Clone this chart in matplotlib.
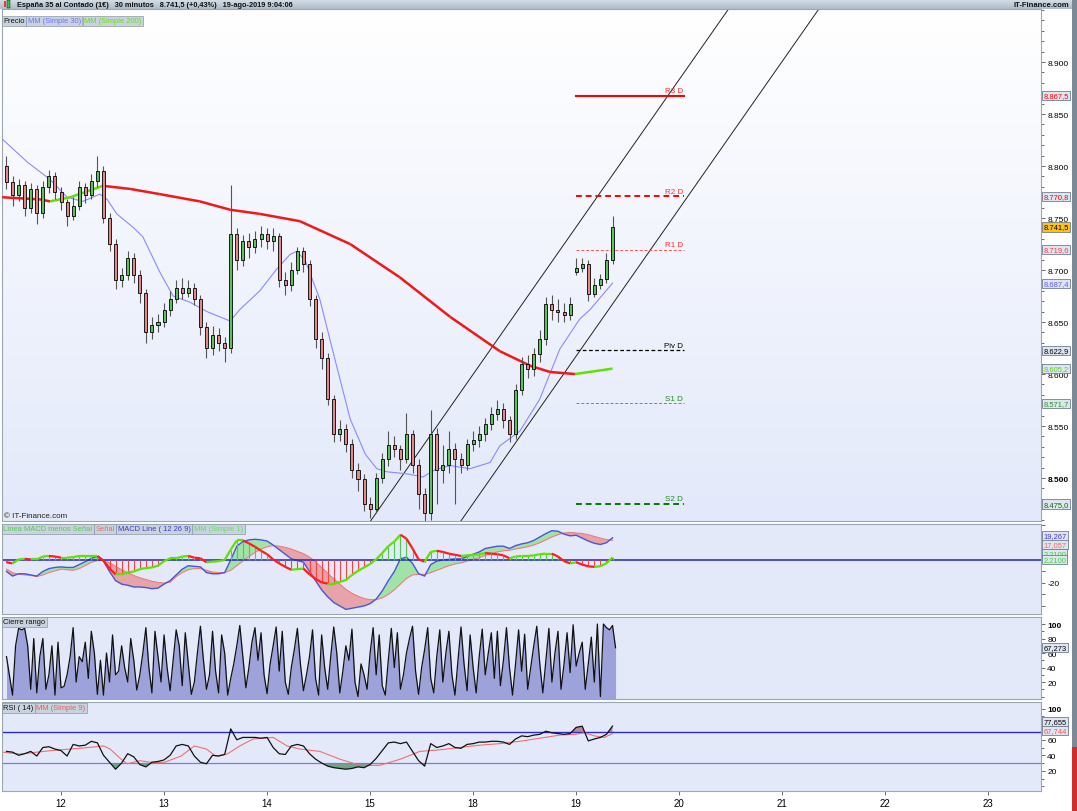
import matplotlib
matplotlib.use("Agg")
import matplotlib.pyplot as plt
import numpy as np
from matplotlib.collections import LineCollection
from matplotlib.colors import LinearSegmentedColormap
from matplotlib.patches import Rectangle
from matplotlib.ticker import FuncFormatter, MultipleLocator

plt.rcParams['font.family'] = ['Liberation Sans', 'DejaVu Sans']

W, H = 1077, 812

# ---------------- data (30 min candles, x = candle index, 17 per session) ----------------
T0 = -9
first_open = 8800
session_opens = {85: 8698}   # gap open on 19-ago

closes = [8785, 8772, 8782, 8760, 8778, 8755, 8780, 8790, 8775,
          8765, 8752, 8762, 8780, 8772, 8786, 8795, 8750, 8725, 8690, 8695, 8712, 8695, 8678, 8640, 8647, 8650,
          8662, 8672, 8683, 8678, 8683, 8672, 8645, 8625, 8638, 8630, 8625, 8735, 8710, 8728, 8722, 8730, 8735,
          8728, 8733, 8690, 8686, 8700, 8718, 8706, 8672, 8634, 8615, 8576, 8542, 8547, 8533, 8508, 8499, 8475,
          8470, 8500, 8518, 8532, 8528, 8518, 8542, 8513, 8485, 8466, 8542, 8508, 8513, 8528, 8518, 8513, 8533,
          8537, 8542, 8552, 8562, 8566, 8556, 8542, 8585, 8610, 8605, 8619, 8634, 8667, 8662, 8660, 8657, 8667,
          8702, 8706, 8677, 8686, 8691, 8710, 8741.5]
highs = [8810, 8790, 8788, 8786, 8784, 8782, 8786, 8796, 8794,
         8780, 8768, 8770, 8786, 8784, 8792, 8810, 8800, 8755, 8730, 8702, 8718, 8716, 8700, 8682, 8655, 8658,
         8668, 8680, 8690, 8692, 8690, 8688, 8676, 8650, 8646, 8644, 8636, 8782, 8740, 8734, 8736, 8738, 8742,
         8740, 8740, 8736, 8698, 8708, 8722, 8722, 8710, 8676, 8640, 8620, 8580, 8556, 8552, 8538, 8514, 8504,
         8482, 8505, 8524, 8545, 8540, 8532, 8563, 8546, 8518, 8490, 8565, 8548, 8532, 8545, 8534, 8524, 8538,
         8545, 8550, 8558, 8568, 8575, 8572, 8560, 8590, 8616, 8618, 8625, 8642, 8674, 8676, 8672, 8668, 8674,
         8712, 8712, 8710, 8692, 8696, 8716, 8752]
lows = [8778, 8762, 8766, 8752, 8755, 8744, 8750, 8774, 8768,
        8758, 8742, 8748, 8758, 8764, 8768, 8780, 8745, 8718, 8682, 8684, 8690, 8688, 8668, 8630, 8634, 8640,
        8645, 8656, 8668, 8672, 8674, 8666, 8638, 8615, 8618, 8622, 8612, 8620, 8700, 8704, 8712, 8716, 8722,
        8720, 8718, 8684, 8676, 8680, 8696, 8698, 8665, 8625, 8605, 8570, 8535, 8536, 8525, 8500, 8488, 8468,
        8462, 8466, 8495, 8512, 8520, 8508, 8514, 8505, 8470, 8458, 8460, 8475, 8495, 8505, 8475, 8505, 8508,
        8526, 8530, 8536, 8546, 8556, 8548, 8535, 8538, 8580, 8596, 8598, 8612, 8628, 8652, 8650, 8650, 8652,
        8695, 8698, 8670, 8674, 8682, 8688, 8706]

ma30_t = [-9.7, -5.6, -1.8, 1.0, 3.6, 6.4, 7.6, 9.2, 11.9, 13.5, 16.3, 18.5, 21.3, 24.1, 27.9, 29.5, 32.8,
          35.6, 37.8, 38.9, 40.3, 42.7, 45.2, 47.7, 50.2, 52.1, 53.8, 57.1, 59.7, 61.7, 64.2, 67.5, 70.8,
          72.4, 75.7, 79.0, 82.3, 85.6, 87.3, 91.0]
ma30_v = [8826, 8804, 8787, 8770, 8766, 8773, 8768, 8754, 8741, 8732, 8698, 8675, 8669, 8660, 8651, 8662, 8680,
          8701, 8715, 8718, 8709, 8672, 8614, 8557, 8523, 8509, 8506, 8504, 8501, 8508, 8512, 8509, 8515,
          8531, 8545, 8576, 8624, 8653, 8662, 8687.4]

ma200_t = [-9.7, -6.8, -3.5, -1.8, -1.0, 1.5, 4.0, 6.9, 11.4, 16.3, 22.9, 27.9, 32.8, 39.4, 47.7, 55.9,
           64.2, 72.4, 77.4, 80.7, 84.8, 91.0]
ma200_v = [8770, 8769, 8768, 8766, 8767, 8770, 8775, 8781, 8778, 8773, 8766, 8758, 8754, 8747, 8725, 8693,
           8655, 8622, 8608, 8602, 8600, 8605.2]

channel_upper = [(51.3, 8460.6), (109.9, 8949.0)]
channel_lower = [(66.2, 8460.6), (124.8, 8949.0)]

pivot_names = ["R3 D", "R2 D", "R1 D", "Piv D", "S1 D", "S2 D"]
pivot_values = [8867.5, 8770.8, 8719.6, 8622.9, 8571.7, 8475.0]

macd = [-10, -14, -12, -12, -13, -14, -10, -7.5, -6.5,
        -6, -6.5, -6.5, -4, -1.5, 1.5, 3, -1, -10, -18, -21, -22, -23.5, -23.5, -24, -25, -24.5,
        -21, -18, -13, -8, -5, -5.5, -6, -11, -12, -12, -11, 0, 12, 16, 17.5, 18, 17.5,
        16.5, 13, 9, 5, 1, -0.5, -2, -10, -18, -26, -32, -37, -40, -43, -42, -41, -40,
        -38, -34, -27, -18, -10, 1, 2.5, -3, -12, -14, -4, -1, 0, 0.5, 1, 1, 3,
        5, 7, 10, 11, 12, 12, 10, 12.5, 14, 15, 17, 20, 23, 25.5, 25, 22.5, 21,
        21.5, 19, 16.5, 14.5, 13.5, 15, 19.267]
signal = [-8, -11, -12.5, -13, -13.5, -14.5, -13, -11, -9.5,
          -8, -8.5, -9, -7.5, -5, -2, -0.5, -0.5, -2.5, -5.5, -8.5, -11, -13.5, -15.5, -17, -18.5, -19.5,
          -20, -19.5, -14.5, -11, -8.5, -7.5, -7.5, -9, -10.5, -11, -11, -9, -5, -1, 3, 6.5, 9.5,
          11.5, 12.5, 12, 11, 9.5, 7.5, 5.5, 2.5, -1.5, -6.5, -11.5, -16.5, -21, -25.5, -29, -31.5, -33.5,
          -34.5, -34.5, -33, -30, -26, -21, -16, -13, -12.5, -12.5, -11, -9, -7, -5, -3.5, -2.5, -1,
          0.5, 2, 4, 5.5, 7, 8, 8.5, 9.5, 10.5, 11.5, 13, 15, 17.5, 20, 22, 23.5, 24,
          23.5, 23, 22, 20.5, 19, 17.8, 17.057]

# "Cierre rango" is sampled twice per candle
CIERRE_STEP = 0.5
cierre = [55, 28, 2, 70, 94, 92, 94, 70, 10, 80,
          5, 55, 80, 10, 30, 70, 2, 75, 12, 14,
          30, 55, 95, 20, 55, 48, 75, 25, 90, 60,
          3, 50, 2, 60, 20, 85, 30, 35, 70, 40,
          20, 80, 50, 9,
          30, 60, 95, 40, 5, 90, 55, 20, 85, 40,
          8, 50, 92, 70, 15, 88, 45, 3, 20, 60,
          97, 50, 10, 30, 90, 35, 5, 85, 60, 2,
          25, 45, 70, 98, 55, 12, 40, 75, 95, 50,
          88, 30, 4, 45, 70, 96, 35, 90, 20, 3,
          40, 65, 94, 45, 8, 30, 55, 92, 25, 2,
          85, 40, 10, 55, 96, 60, 5, 35, 70, 50,
          93, 20, 0, 45, 30, 10, 60, 95, 30, 85,
          15, 2, 50, 94, 40, 88, 10, 30, 60, 80,
          97, 35, 3, 40, 65, 95, 25, 5, 55, 92,
          20, 60, 90, 30, 2, 50, 96, 45, 8, 85,
          40, 5, 55, 93, 30, 60, 88, 25, 90, 15,
          50, 95, 40, 2, 45, 92, 35, 86, 10, 40,
          70, 97, 45, 5, 50, 94, 20, 60, 90, 10,
          45, 88,
          33, 99, 42, 60, 75, 10, 45, 82, 20, 100, 0, 100, 95, 92, 98, 67.273]

rsi = [45, 44, 40, 42, 45, 39, 50, 51, 48,
       46, 39, 54, 52, 53, 58, 56, 40, 31, 22, 30, 42, 38, 28, 25, 31, 32,
       34, 40, 52, 54, 52, 39, 31, 29, 40, 39, 41, 74, 60, 63, 63, 63, 62,
       63, 50, 42, 41, 52, 54, 52, 42, 35, 30, 26, 24, 23, 22, 23, 25, 24,
       28, 36, 46, 56, 57, 55, 57, 45, 33, 26, 55, 50, 52, 55, 50, 49, 54,
       55, 57, 57, 58, 58, 57, 54, 61, 65, 64, 66, 67, 71, 69, 68, 67, 68,
       76, 77.5, 58.5, 61, 63, 67, 77.655]
rsi_ma_t = [-9.7, -6.8, -1.8, 1.5, 4.5, 7.0, 8.1, 9.9, 10.9, 13.0, 15.2, 17.1, 19.8, 22.0, 24.0, 25.5,
            27.4, 29.5, 31.7, 35.0, 37.3, 39.4, 42.7, 46.0, 49.3, 52.6, 56.0, 59.2, 62.5, 65.8, 69.1,
            72.4, 75.7, 79.0, 82.3, 84.8, 86.4, 88.0, 89.6, 91.0]
rsi_ma_v = [44, 41.5, 45.9, 48, 50, 52, 48, 35, 29, 33, 30.5, 31, 39, 52, 48, 39,
            41.5, 52, 61, 63, 52, 48, 45, 35, 27, 27, 35, 45, 47, 50, 53,
            55, 58, 62, 66, 67, 69, 65, 63, 67.744]

day_ticks = [0, 17, 34, 51, 68, 85, 102, 119, 136, 153]
day_labels = ["12", "13", "14", "15", "18", "19", "20", "21", "22", "23"]


def rect(x0, y0, x1, y1):
    return [x0 / W, 1 - y1 / H, (x1 - x0) / W, (y1 - y0) / H]


def eur(v, nd):
    s = f"{v:,.{nd}f}"
    return s.replace(",", " ").replace(".", ",").replace(" ", ".")


def value_box(ax, y, text, color, fc="#dfe5f0", yshift=0):
    ax.text(1.0022, y + yshift, text, transform=ax.get_yaxis_transform(), ha="left", va="center",
            fontsize=5.4, color=color, clip_on=False, zorder=10,
            bbox=dict(boxstyle="square,pad=0.15", fc=fc, ec="#6f7f8f", lw=0.6))


def legend_row(fig, x, y, items, fc="#c9d3de"):
    renderer = fig.canvas.get_renderer()
    for text, color in items:
        txt = fig.text(x / W, 1 - y / H, text, ha="left", va="center", fontsize=5.4, color=color,
                       bbox=dict(boxstyle="square,pad=0.2", fc=fc, ec="#8a99a8", lw=0.5))
        bb = txt.get_window_extent(renderer)
        x = bb.x1 + 3.2


def style_axis(ax, face=None):
    if face:
        ax.set_facecolor(face)
    for s in ax.spines.values():
        s.set_color("#9aa6b4")
        s.set_linewidth(0.8)
    ax.yaxis.tick_right()
    ax.tick_params(axis="y", which="both", direction="out", length=3, width=0.6,
                   colors="#555555", labelcolor="black", labelsize=6, pad=1.5)
    ax.tick_params(axis="y", which="minor", length=2)
    ax.tick_params(axis="x", bottom=False, labelbottom=False)
    ax.set_xlim(-9.74, 161.7)


fig = plt.figure(figsize=(W / 100, H / 100), dpi=100)
fig.patch.set_facecolor("white")

t = np.arange(T0, T0 + len(closes))
closes_a = np.array(closes, float)
opens = np.array([first_open] + closes[:-1], float)
for k, v in session_opens.items():
    opens[k - T0] = v

# ---------------- title bar ----------------
ax_t = fig.add_axes(rect(0, 0, 1072, 10))
ax_t.imshow(np.linspace(0, 1, 32).reshape(-1, 1), aspect="auto", extent=(0, 1, 0, 1),
            cmap=LinearSegmentedColormap.from_list("tb", ["#d7e0e8", "#aebdca"]))
ax_t.set_xlim(0, 1)
ax_t.set_ylim(0, 1)
ax_t.axis("off")
ax_t.add_patch(Rectangle((0.0035, 0.2), 0.0025, 0.6, fc="#e04040", ec="none"))
ax_t.add_patch(Rectangle((0.0065, 0.1), 0.0025, 0.8, fc="#40c040", ec="black", lw=0.3))
ax_t.text(0.016, 0.45, "España 35 al Contado (1€)   30 minutos   8.741,5 (+0,43%)   19-ago-2019 9:04:06",
          fontsize=5.35, fontweight="bold", va="center", ha="left", color="#111111")
ax_t.text(0.997, 0.45, "IT-Finance.com", fontsize=5.5, fontweight="bold", va="center", ha="right",
          color="#111111")

# ---------------- price panel ----------------
ax_p = fig.add_axes(rect(2, 10, 1041, 522))
ax_p.imshow(np.linspace(0, 1, 256).reshape(-1, 1), aspect="auto", extent=(0, 1, 0, 1),
            transform=ax_p.transAxes, zorder=0,
            cmap=LinearSegmentedColormap.from_list("bg", ["#ffffff", "#e3e9fa"]))
style_axis(ax_p)

for (p1, p2) in (channel_upper, channel_lower):
    ax_p.axline(p1, p2, color="#222222", lw=0.7, zorder=2)

pivot_styles = [("#ff0000", "-", 1.5), ("#ff0000", (0, (3, 2)), 1.4), ("#ff5555", (0, (3, 2)), 0.7),
                ("#000000", (0, (3, 2)), 0.9), ("#44aa44", (0, (3, 2)), 0.7), ("#007a00", (0, (3, 2)), 1.4)]
for name, val, (col, ls, lw) in zip(pivot_names, pivot_values, pivot_styles):
    ax_p.plot([85, 102.8], [val, val], color=col, ls=ls, lw=lw, zorder=3)
    tcol = "#000000" if name.startswith("Piv") else ("#ff3030" if name.startswith("R") else "#208a20")
    ax_p.text(102.6, val + 1.5, name, color=tcol, fontsize=5.8, ha="right", va="bottom", zorder=3)

ax_p.plot(ma30_t, ma30_v, color="#8a8aff", lw=0.8, zorder=4)

pts = np.column_stack([ma200_t, ma200_v])
segs = np.stack([pts[:-1], pts[1:]], axis=1)
seg_cols = ["#62e000" if b > a else "#f01818" for a, b in zip(ma200_v[:-1], ma200_v[1:])]
ax_p.add_collection(LineCollection(segs, colors=seg_cols, lw=1.8, zorder=4))

up = closes_a >= opens
ax_p.vlines(t, lows, highs, color="#555555", lw=0.8, zorder=5)
body_lo = np.minimum(opens, closes_a)
body_h = np.maximum(np.abs(closes_a - opens), 0.8)
ax_p.bar(t, body_h, bottom=body_lo, width=0.5, color=np.where(up, "#5cc35c", "#e38888"),
         edgecolor="black", linewidth=0.6, zorder=6)

ax_p.set_ylim(8458.7, 8951)
ax_p.set_yticks(np.arange(8500, 8901, 50))
ax_p.yaxis.set_minor_locator(MultipleLocator(10))
ax_p.yaxis.set_major_formatter(FuncFormatter(lambda v, p: eur(v, 0)))

value_box(ax_p, pivot_values[0], eur(pivot_values[0], 1), "#ff0000")
value_box(ax_p, pivot_values[1], eur(pivot_values[1], 1), "#ff0000")
value_box(ax_p, closes_a[-1], eur(closes_a[-1], 1), "black", fc="#ffc20e")
value_box(ax_p, pivot_values[2], eur(pivot_values[2], 1), "#ff3b3b")
value_box(ax_p, ma30_v[-1], eur(ma30_v[-1], 1), "#5a5aff")
value_box(ax_p, pivot_values[3], eur(pivot_values[3], 1), "black")
value_box(ax_p, ma200_v[-1], eur(ma200_v[-1], 1), "#55dd00")
value_box(ax_p, pivot_values[4], eur(pivot_values[4], 1), "#1f9a1f")
value_box(ax_p, pivot_values[5], eur(pivot_values[5], 1), "#007000")

ax_p.text(0.002, 0.003, "© IT-Finance.com", transform=ax_p.transAxes, fontsize=5.8,
          ha="left", va="bottom", color="#222222", zorder=8)

# ---------------- MACD panel ----------------
ax_m = fig.add_axes(rect(2, 525, 1041, 615))
style_axis(ax_m, "#e4e9fa")
macd_a = np.array(macd, float)
sig_a = np.array(signal, float)
hist = macd_a - sig_a
ax_m.fill_between(t, macd_a, sig_a, where=macd_a >= sig_a, interpolate=True, color="#9fe3a6", lw=0)
ax_m.fill_between(t, macd_a, sig_a, where=macd_a < sig_a, interpolate=True, color="#e6a3a8", lw=0)
ax_m.plot(t, sig_a, color="#e88080", lw=0.8)
ax_m.plot(t, macd_a, color="#4a55d8", lw=1.0)
ax_m.axhline(0, color="#2323b8", lw=1.1)
ax_m.vlines(t, 0, hist, colors=np.where(hist >= 0, "#4ccf4c", "#ff4040"), lw=0.8)
hp = np.column_stack([t, hist])
hsegs = np.stack([hp[:-1], hp[1:]], axis=1)
hcols = ["#62e000" if b >= a else "#ff1c1c" for a, b in zip(hist[:-1], hist[1:])]
ax_m.add_collection(LineCollection(hsegs, colors=hcols, lw=1.6))
ax_m.set_ylim(-47, 31.3)
ax_m.set_yticks([-40, -30, -20, -10, 0, 10, 20, 30])
ax_m.set_yticklabels(["", "", "-20", "", "", "", "", ""])
value_box(ax_m, 20.9, eur(macd_a[-1], 3), "#3a3ad0")
value_box(ax_m, 13.2, eur(sig_a[-1], 3), "#ff6060")
value_box(ax_m, 5.4, eur(hist[-1], 4), "#44cc44")
value_box(ax_m, 0.2, eur(hist[-1], 4), "#44cc44")

# ---------------- Cierre rango panel ----------------
ax_c = fig.add_axes(rect(2, 618, 1041, 700))
style_axis(ax_c, "#e4e9fa")
tc = T0 + CIERRE_STEP * np.arange(len(cierre))
ax_c.fill_between(tc, -10, cierre, color="#9da2da", lw=0)
ax_c.plot(tc, cierre, color="#111111", lw=0.9)
ax_c.set_ylim(-3.4, 109.7)
ax_c.set_yticks([20, 40, 60, 80, 100])
ax_c.yaxis.set_minor_locator(MultipleLocator(10))
value_box(ax_c, cierre[-1], eur(cierre[-1], 3), "black")

# ---------------- RSI panel ----------------
ax_r = fig.add_axes(rect(2, 703, 1041, 792))
style_axis(ax_r, "#e4e9fa")
rsi_a = np.array(rsi, float)
ax_r.fill_between(t, rsi_a, 70, where=rsi_a > 70, interpolate=True, color="#b98a96", lw=0)
ax_r.fill_between(t, rsi_a, 30, where=rsi_a < 30, interpolate=True, color="#6fa586", lw=0)
ax_r.axhline(70, color="#2a2ad0", lw=1.0)
ax_r.axhline(30, color="#7a7af0", lw=0.9)
ax_r.plot(rsi_ma_t, rsi_ma_v, color="#f07070", lw=0.8)
ax_r.plot(t, rsi_a, color="#111111", lw=0.9)
ax_r.set_ylim(-6.1, 108.7)
ax_r.set_yticks([20, 40, 60, 80, 100])
ax_r.set_yticklabels(["20", "40", "60", "", "100"])
ax_r.yaxis.set_minor_locator(MultipleLocator(10))
value_box(ax_r, rsi_a[-1], eur(rsi_a[-1], 3), "black", yshift=6.0)
value_box(ax_r, rsi_ma_v[-1], eur(rsi_ma_v[-1], 3), "#ff5050", yshift=4.2)
ax_r.tick_params(axis="x", bottom=True, labelbottom=True, length=3, width=0.6, colors="#555555",
                 labelcolor="black", labelsize=7, pad=2)
ax_r.set_xticks(day_ticks)
ax_r.set_xticklabels(day_labels)

fig.canvas.draw()
for ax, lab in ((ax_p, "8.500"), (ax_c, "100"), (ax_r, "100")):
    for tl in ax.get_yticklabels():
        if tl.get_text() == lab:
            tl.set_fontweight("bold")

# ---------------- legend tags ----------------
legend_row(fig, 3, 21.5, [("Precio", "#111111"), ("MM (Simple 30)", "#6f6fff"),
                          ("MM (Simple 200)", "#66e000")])
legend_row(fig, 3, 529.5, [("Línea MACD menos Señal", "#4fc94f"), ("Señal", "#ea6a6a"),
                           ("MACD Line ( 12 26 9)", "#3b3bc8"), ("MM (Simple 1)", "#6ad86a")])
legend_row(fig, 3, 623, [("Cierre rango", "#111111")])
legend_row(fig, 3, 709, [("RSI ( 14)", "#111111"), ("MM (Simple 9)", "#ea5a5a")])

# window frame on the right
fig.patches.append(Rectangle((1072 / W, 1 - 748 / H), 5 / W, 748 / H, transform=fig.transFigure,
                             fc="#7d8995", ec="none"))
fig.patches.append(Rectangle((1072 / W, 0), 5 / W, 64 / H, transform=fig.transFigure,
                             fc="#d42a2a", ec="none"))

fig.savefig("out.png", dpi=100, facecolor="white")
